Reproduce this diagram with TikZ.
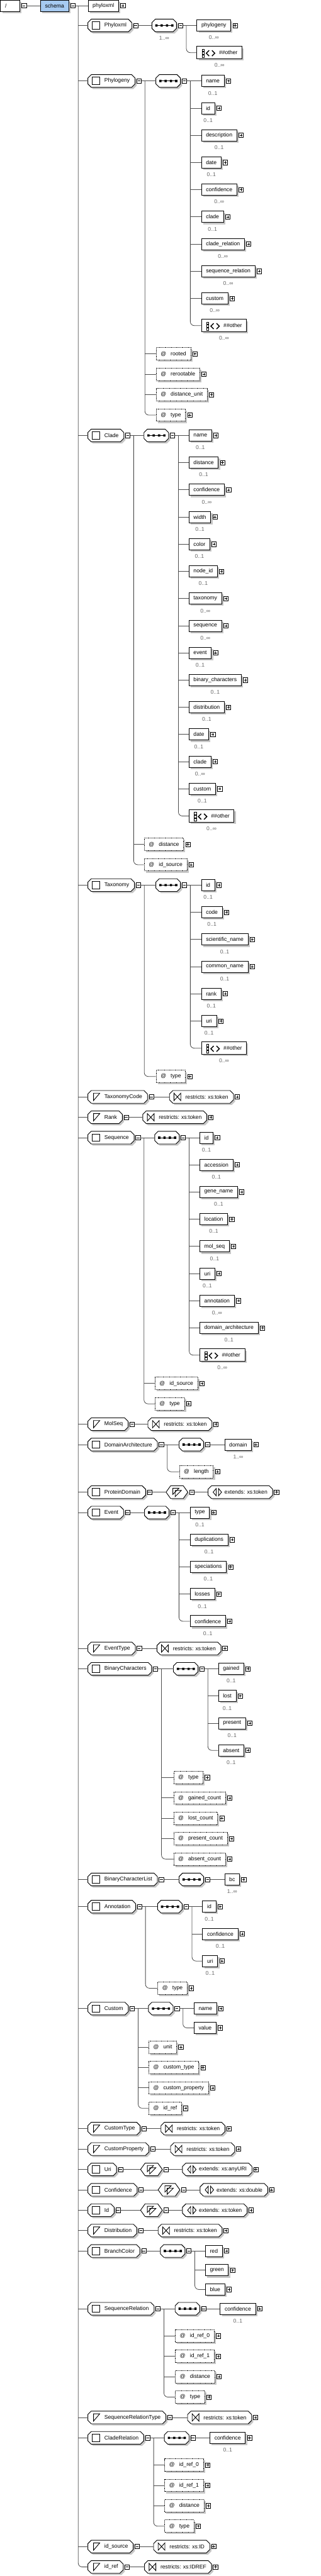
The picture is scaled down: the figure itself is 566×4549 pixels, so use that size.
\documentclass[tikz,border=0pt]{standalone}
\usepackage{fontspec}
\setmainfont{Liberation Sans}
\usetikzlibrary{positioning,shadows,backgrounds}
\definecolor{schemablue}{RGB}{166,202,240}

\tikzset{
  every node/.style={font=\fontsize{9.6}{11}\selectfont},
  conn/.style={draw=black!70, line width=0.9pt},
  boxshadow/.style={general shadow={fill=black!22, shadow xshift=3pt, shadow yshift=-3pt}},
  elembox/.style={draw, fill=white, line width=1pt, boxshadow, anchor=west,
    minimum height=20pt, inner xsep=8pt, inner ysep=0pt},
  attrbox/.style={elembox, dash pattern=on 1pt off 1pt, minimum height=22pt},
  anybox/.style={draw, fill=white, line width=1pt, boxshadow, anchor=west,
    minimum height=22pt, inner xsep=8pt, inner ysep=0pt,
    execute at begin node={\hspace*{31pt}}},
  typebox/.style={anchor=west, minimum height=22pt, inner xsep=9pt, inner ysep=0pt,
    execute at begin node={\hspace*{20pt}}},
  restrbox/.style={anchor=west, minimum height=22pt, inner xsep=9pt, inner ysep=0pt,
    execute at begin node={\hspace*{19pt}}},
  extbox/.style={anchor=west, minimum height=22pt, inner xsep=9pt, inner ysep=0pt,
    execute at begin node={\hspace*{20pt}}},
  seqbox/.style={anchor=west, minimum width=43pt, minimum height=22pt, inner sep=0pt},
  hexbox/.style={anchor=west, minimum width=38pt, minimum height=22pt, inner sep=0pt},
  shapeline/.style={draw=black, line width=1pt, fill=white, boxshadow},
  pmbox/.style={draw, fill=white, line width=0.8pt, minimum size=8pt, inner sep=0pt},
  pbox/.style={pmbox, path picture={\draw[line width=0.8pt]
      ([xshift=1.6pt]path picture bounding box.west) -- ([xshift=-1.6pt]path picture bounding box.east)
      ([yshift=1.6pt]path picture bounding box.south) -- ([yshift=-1.6pt]path picture bounding box.north);}},
  mbox/.style={pmbox, path picture={\draw[line width=0.8pt]
      ([xshift=1.6pt]path picture bounding box.west) -- ([xshift=-1.6pt]path picture bounding box.east);}},
  card/.style={text=black!60, inner sep=0pt},
}

% outlines drawn behind the named nodes
\newcommand\octa[2]{%
  \begin{scope}[on background layer]
    \draw[shapeline] ([yshift=#2]#1.south west) -- ([yshift=-#2]#1.north west)
      -- ([xshift=#2]#1.north west) -- ([xshift=-#2]#1.north east)
      -- ([yshift=-#2]#1.north east) -- ([yshift=#2]#1.south east)
      -- ([xshift=-#2]#1.south east) -- ([xshift=#2]#1.south west) -- cycle;
  \end{scope}}
\newcommand\hexa[1]{%
  \begin{scope}[on background layer]
    \draw[shapeline] (#1.west) -- ([xshift=8pt]#1.north west) -- ([xshift=-8pt]#1.north east)
      -- (#1.east) -- ([xshift=-8pt]#1.south east) -- ([xshift=8pt]#1.south west) -- cycle;
  \end{scope}}

% icons
\newcommand\icosq[1]{\draw[line width=1pt] ([shift={(8pt,-6.5pt)}]#1.west) rectangle +(13pt,13pt);}
\newcommand\icotri[1]{\draw[line width=1pt] ([shift={(10pt,6.5pt)}]#1.west) -- +(11pt,0pt) -- +(0pt,-13pt) -- cycle;}
\newcommand\icorestr[1]{\draw[line width=1pt] ([shift={(8pt,6.5pt)}]#1.west) -- +(0pt,-13pt) -- +(12pt,0pt) -- +(12pt,-13pt) -- cycle;}
\newcommand\icoext[1]{\draw[line width=1pt] ([xshift=9pt]#1.west) -- +(5.5pt,6.5pt) -- +(5.5pt,-6.5pt) -- cycle
    ([xshift=24pt]#1.west) -- +(-5.5pt,6.5pt) -- +(-5.5pt,-6.5pt) -- cycle;}
\newcommand\icocc[1]{\draw[line width=1pt, fill=white] ([shift={(12pt,7pt)}]#1.west) -- +(11pt,0pt) -- +(0pt,-11pt) -- cycle
    ([shift={(16pt,3pt)}]#1.west) -- +(11pt,0pt) -- +(0pt,-11pt) -- cycle;}
\newcommand\icoany[1]{%
  \draw[line width=0.8pt] ([shift={(9.5pt,2.5pt)}]#1.west) rectangle +(4pt,4pt)
     ([shift={(9.5pt,-3pt)}]#1.west) rectangle +(4pt,4pt)
     ([shift={(9.5pt,-8.5pt)}]#1.west) rectangle +(4pt,4pt);
  \draw[line width=1.6pt] ([shift={(22pt,4pt)}]#1.west) -- +(-5pt,-5pt) -- +(0pt,-10pt)
     ([shift={(27pt,4pt)}]#1.west) -- +(5pt,-5pt) -- +(0pt,-10pt);}

% building blocks
\newcommand\elem[4]{\node[elembox] (#1) at (#2) {#3};
  \node[pbox] (#1-p) at ([xshift=7pt]#1.east) {};
  \ifx\relax#4\relax\else\node[card] (#1-c) at ([yshift=-11pt]#1.south) {#4};\fi}
\newcommand\attrib[3]{\node[attrbox] (#1) at (#2) {@\hspace{8pt}#3};
  \node[pbox] (#1-p) at ([xshift=7pt]#1.east) {};}
\newcommand\anyother[3]{\node[anybox] (#1) at (#2) {\#\#other};
  \icoany{#1}
  \node[card] (#1-c) at ([yshift=-11pt]#1.south) {#3};}
\newcommand\toptype[4]{\node[typebox] (#1) at (155,#2) {#3};
  \octa{#1}{6pt}
  #4{#1}
  \node[mbox] (#1-m) at ([xshift=7pt]#1.east) {};}
\newcommand\seqc[2]{\node[seqbox] (#1) at (#2) {};
  \octa{#1}{6pt}
  \draw[line width=1pt] ([xshift=8pt]#1.west) -- ([xshift=36pt]#1.west);
  \fill ([xshift=8pt]#1.west) +(-2pt,-2pt) rectangle +(2pt,2pt)
        ([xshift=17.3pt]#1.west) +(-2pt,-2pt) rectangle +(2pt,2pt)
        ([xshift=26.7pt]#1.west) +(-2pt,-2pt) rectangle +(2pt,2pt)
        ([xshift=36pt]#1.west) +(-2pt,-2pt) rectangle +(2pt,2pt);
  \node[mbox] (#1-m) at ([xshift=7pt]#1.east) {};}
\newcommand\restr[3]{\node[restrbox] (#1) at (#2) {#3};
  \octa{#1}{6pt}
  \icorestr{#1}
  \node[pbox] (#1-p) at ([xshift=7pt]#1.east) {};}
\newcommand\extn[3]{\node[extbox] (#1) at (#2) {#3};
  \octa{#1}{6pt}
  \icoext{#1}
  \node[pbox] (#1-p) at ([xshift=7pt]#1.east) {};}
\newcommand\cplx[2]{\node[hexbox] (#1) at (#2) {};
  \hexa{#1}
  \icocc{#1}
  \node[mbox] (#1-m) at ([xshift=7pt]#1.east) {};}
\newcommand\branch[3]{%
  \foreach \ch in {#2} {\draw[conn] (#1 |- \ch.west) -- (\ch.west);}
  \draw[conn, rounded corners=7pt] (#1) |- (#3.west);}

\begin{document}
\begin{tikzpicture}[x=1pt, y=-1pt]
\begin{scope}[on background layer]
  \fill[white] (0,0) rectangle (566,4549);
\end{scope}
\useasboundingbox (0,0) rectangle (566,4549);

%%%%% root %%%%%
\node[elembox, minimum width=34pt] (root) at (0.5,10) {\makebox[18pt][l]{/}};
\node[mbox] (root-m) at ([xshift=7pt]root.east) {};
\node[elembox, fill=schemablue] (schema) at (71,10) {schema};
\node[mbox] (schema-m) at ([xshift=7pt]schema.east) {};
\draw[conn] (root-m) -- (schema);
\coordinate (root-j) at ([xshift=5pt]schema-m.east);
\draw[conn] (schema-m) -- (root-j);

\elem{phyloxml-el}{155,10}{phyloxml}{}

%%%%% Phyloxml %%%%%
\toptype{Phyloxml}{45}{Phyloxml}{\icosq}
\seqc{Phyloxml-s}{268,45}
\node[card] (Phyloxml-s-c) at ([yshift=-11pt]Phyloxml-s.south) {1..∞};
\elem{px-phylogeny}{347,45}{phylogeny}{0..∞}
\anyother{px-any}{347,93}{0..∞}
\draw[conn] (Phyloxml-m) -- (Phyloxml-s);
\coordinate (Phyloxml-j) at ([xshift=6pt]Phyloxml-s-m.east);
\draw[conn] (Phyloxml-s-m) -- (Phyloxml-j);
\branch{Phyloxml-j}{px-phylogeny}{px-any}

%%%%% Phylogeny %%%%%
\toptype{Phylogeny}{143}{Phylogeny}{\icosq}
\seqc{Phylogeny-s}{275,143}
\elem{pg-name}{355,143}{name}{0..1}
\elem{pg-id}{355,191}{id}{0..1}
\elem{pg-desc}{355,239}{description}{0..1}
\elem{pg-date}{355,287}{date}{0..1}
\elem{pg-conf}{355,335}{confidence}{0..∞}
\elem{pg-clade}{355,383}{clade}{0..1}
\elem{pg-crel}{355,431}{clade\_relation}{0..∞}
\elem{pg-srel}{355,479}{sequence\_relation}{0..∞}
\elem{pg-custom}{355,527}{custom}{0..∞}
\anyother{pg-any}{355,575}{0..∞}
\attrib{pg-rooted}{275,625}{rooted}
\attrib{pg-reroot}{275,661}{rerootable}
\attrib{pg-dunit}{275,697}{distance\_unit}
\attrib{pg-type}{275,733}{type}
\coordinate (Phylogeny-a) at ([xshift=6pt]Phylogeny-m.east);
\draw[conn] (Phylogeny-m) -- (Phylogeny-s);
\branch{Phylogeny-a}{pg-rooted,pg-reroot,pg-dunit}{pg-type}
\coordinate (Phylogeny-j) at ([xshift=6pt]Phylogeny-s-m.east);
\draw[conn] (Phylogeny-s-m) -- (Phylogeny-j);
\branch{Phylogeny-j}{pg-name,pg-id,pg-desc,pg-date,pg-conf,pg-clade,pg-crel,pg-srel,pg-custom}{pg-any}

%%%%% Clade %%%%%
\toptype{Clade}{769}{Clade}{\icosq}
\seqc{Clade-s}{254,769}
\elem{cl-name}{333,769}{name}{0..1}
\elem{cl-dist}{333,817}{distance}{0..1}
\elem{cl-conf}{333,865}{confidence}{0..∞}
\elem{cl-width}{333,913}{width}{0..1}
\elem{cl-color}{333,961}{color}{0..1}
\elem{cl-nodeid}{333,1009}{node\_id}{0..1}
\elem{cl-tax}{333,1057}{taxonomy}{0..∞}
\elem{cl-seq}{333,1105}{sequence}{0..∞}
\elem{cl-event}{333,1153}{event}{0..1}
\elem{cl-binch}{333,1201}{binary\_characters}{0..1}
\elem{cl-distr}{333,1249}{distribution}{0..1}
\elem{cl-date}{333,1297}{date}{0..1}
\elem{cl-clade}{333,1345}{clade}{0..∞}
\elem{cl-custom}{333,1393}{custom}{0..1}
\anyother{cl-any}{333,1441}{0..∞}
\attrib{cl-adist}{254,1491}{distance}
\attrib{cl-idsrc}{254,1527}{id\_source}
\coordinate (Clade-a) at ([xshift=6pt]Clade-m.east);
\draw[conn] (Clade-m) -- (Clade-s);
\branch{Clade-a}{cl-adist}{cl-idsrc}
\coordinate (Clade-j) at ([xshift=6pt]Clade-s-m.east);
\draw[conn] (Clade-s-m) -- (Clade-j);
\branch{Clade-j}{cl-name,cl-dist,cl-conf,cl-width,cl-color,cl-nodeid,cl-tax,cl-seq,cl-event,cl-binch,cl-distr,cl-date,cl-clade,cl-custom}{cl-any}

%%%%% Taxonomy %%%%%
\toptype{Taxonomy}{1563}{Taxonomy}{\icosq}
\seqc{Taxonomy-s}{275,1563}
\elem{tx-id}{355,1563}{id}{0..1}
\elem{tx-code}{355,1611}{code}{0..1}
\elem{tx-sci}{355,1659}{scientific\_name}{0..1}
\elem{tx-common}{355,1707}{common\_name}{0..1}
\elem{tx-rank}{355,1755}{rank}{0..1}
\elem{tx-uri}{355,1803}{uri}{0..1}
\anyother{tx-any}{355,1851}{0..∞}
\attrib{tx-type}{275,1901}{type}
\coordinate (Taxonomy-a) at ([xshift=6pt]Taxonomy-m.east);
\draw[conn] (Taxonomy-m) -- (Taxonomy-s);
\draw[conn, rounded corners=7pt] (Taxonomy-a) |- (tx-type.west);
\coordinate (Taxonomy-j) at ([xshift=6pt]Taxonomy-s-m.east);
\draw[conn] (Taxonomy-s-m) -- (Taxonomy-j);
\branch{Taxonomy-j}{tx-id,tx-code,tx-sci,tx-common,tx-rank,tx-uri}{tx-any}

%%%%% TaxonomyCode, Rank %%%%%
\toptype{TaxonomyCode}{1937}{TaxonomyCode}{\icotri}
\restr{TaxonomyCode-r}{299,1937}{restricts: xs:token}
\draw[conn] (TaxonomyCode-m) -- (TaxonomyCode-r);
\toptype{Rank}{1973}{Rank}{\icotri}
\restr{Rank-r}{252,1973}{restricts: xs:token}
\draw[conn] (Rank-m) -- (Rank-r);

%%%%% Sequence %%%%%
\toptype{Sequence}{2009}{Sequence}{\icosq}
\seqc{Sequence-s}{273,2009}
\elem{sq-id}{352,2009}{id}{0..1}
\elem{sq-acc}{352,2057}{accession}{0..1}
\elem{sq-gene}{352,2105}{gene\_name}{0..1}
\elem{sq-loc}{352,2153}{location}{0..1}
\elem{sq-mol}{352,2201}{mol\_seq}{0..1}
\elem{sq-uri}{352,2249}{uri}{0..1}
\elem{sq-annot}{352,2297}{annotation}{0..∞}
\elem{sq-domarch}{352,2345}{domain\_architecture}{0..1}
\anyother{sq-any}{352,2393}{0..∞}
\attrib{sq-idsrc}{273,2443}{id\_source}
\attrib{sq-type}{273,2479}{type}
\coordinate (Sequence-a) at ([xshift=6pt]Sequence-m.east);
\draw[conn] (Sequence-m) -- (Sequence-s);
\branch{Sequence-a}{sq-idsrc}{sq-type}
\coordinate (Sequence-j) at ([xshift=6pt]Sequence-s-m.east);
\draw[conn] (Sequence-s-m) -- (Sequence-j);
\branch{Sequence-j}{sq-id,sq-acc,sq-gene,sq-loc,sq-mol,sq-uri,sq-annot,sq-domarch}{sq-any}

%%%%% MolSeq %%%%%
\toptype{MolSeq}{2515}{MolSeq}{\icotri}
\restr{MolSeq-r}{261,2515}{restricts: xs:token}
\draw[conn] (MolSeq-m) -- (MolSeq-r);

%%%%% DomainArchitecture %%%%%
\toptype{DomainArch}{2551}{DomainArchitecture}{\icosq}
\seqc{DomainArch-s}{316,2551}
\elem{da-domain}{396,2551}{domain}{1..∞}
\attrib{da-length}{316,2599}{length}
\coordinate (DomainArch-a) at ([xshift=6pt]DomainArch-m.east);
\draw[conn] (DomainArch-m) -- (DomainArch-s);
\draw[conn, rounded corners=7pt] (DomainArch-a) |- (da-length.west);
\draw[conn] (DomainArch-s-m) -- (da-domain);

%%%%% ProteinDomain %%%%%
\toptype{ProteinDomain}{2635}{ProteinDomain}{\icosq}
\cplx{ProteinDomain-c}{293,2635}
\extn{ProteinDomain-x}{367,2635}{extends: xs:token}
\draw[conn] (ProteinDomain-m) -- (ProteinDomain-c);
\draw[conn] (ProteinDomain-c-m) -- (ProteinDomain-x);

%%%%% Event %%%%%
\toptype{Event}{2671}{Event}{\icosq}
\seqc{Event-s}{255,2671}
\elem{ev-type}{335,2671}{type}{0..1}
\elem{ev-dup}{335,2719}{duplications}{0..1}
\elem{ev-spec}{335,2767}{speciations}{0..1}
\elem{ev-loss}{335,2815}{losses}{0..1}
\elem{ev-conf}{335,2863}{confidence}{0..1}
\draw[conn] (Event-m) -- (Event-s);
\coordinate (Event-j) at ([xshift=6pt]Event-s-m.east);
\draw[conn] (Event-s-m) -- (Event-j);
\branch{Event-j}{ev-type,ev-dup,ev-spec,ev-loss}{ev-conf}

%%%%% EventType %%%%%
\toptype{EventType}{2911}{EventType}{\icotri}
\restr{EventType-r}{277,2911}{restricts: xs:token}
\draw[conn] (EventType-m) -- (EventType-r);

%%%%% BinaryCharacters %%%%%
\toptype{BinChars}{2947}{BinaryCharacters}{\icosq}
\seqc{BinChars-s}{306,2947}
\elem{bc-gained}{385,2947}{gained}{0..1}
\elem{bc-lost}{385,2995}{lost}{0..1}
\elem{bc-present}{385,3043}{present}{0..1}
\elem{bc-absent}{385,3091}{absent}{0..1}
\attrib{bc-type}{306,3139}{type}
\attrib{bc-gcount}{306,3175}{gained\_count}
\attrib{bc-lcount}{306,3211}{lost\_count}
\attrib{bc-pcount}{306,3247}{present\_count}
\attrib{bc-acount}{306,3283}{absent\_count}
\coordinate (BinChars-a) at ([xshift=6pt]BinChars-m.east);
\draw[conn] (BinChars-m) -- (BinChars-s);
\branch{BinChars-a}{bc-type,bc-gcount,bc-lcount,bc-pcount}{bc-acount}
\coordinate (BinChars-j) at ([xshift=6pt]BinChars-s-m.east);
\draw[conn] (BinChars-s-m) -- (BinChars-j);
\branch{BinChars-j}{bc-gained,bc-lost,bc-present}{bc-absent}

%%%%% BinaryCharacterList %%%%%
\toptype{BinCharList}{3319}{BinaryCharacterList}{\icosq}
\seqc{BinCharList-s}{316,3319}
\elem{bl-bc}{396,3319}{bc}{1..∞}
\draw[conn] (BinCharList-m) -- (BinCharList-s);
\draw[conn] (BinCharList-s-m) -- (bl-bc);

%%%%% Annotation %%%%%
\toptype{Annotation}{3367}{Annotation}{\icosq}
\seqc{Annotation-s}{278,3367}
\elem{an-id}{357,3367}{id}{0..1}
\elem{an-conf}{357,3415}{confidence}{0..1}
\elem{an-uri}{357,3463}{uri}{0..1}
\attrib{an-type}{278,3511}{type}
\coordinate (Annotation-a) at ([xshift=6pt]Annotation-m.east);
\draw[conn] (Annotation-m) -- (Annotation-s);
\draw[conn, rounded corners=7pt] (Annotation-a) |- (an-type.west);
\coordinate (Annotation-j) at ([xshift=6pt]Annotation-s-m.east);
\draw[conn] (Annotation-s-m) -- (Annotation-j);
\branch{Annotation-j}{an-id,an-conf}{an-uri}

%%%%% Custom %%%%%
\toptype{Custom}{3547}{Custom}{\icosq}
\seqc{Custom-s}{262,3547}
\elem{cu-name}{342,3547}{name}{}
\elem{cu-value}{342,3581}{value}{}
\attrib{cu-unit}{262,3615}{unit}
\attrib{cu-ctype}{262,3651}{custom\_type}
\attrib{cu-cprop}{262,3687}{custom\_property}
\attrib{cu-idref}{262,3723}{id\_ref}
\coordinate (Custom-a) at ([xshift=6pt]Custom-m.east);
\draw[conn] (Custom-m) -- (Custom-s);
\branch{Custom-a}{cu-unit,cu-ctype,cu-cprop}{cu-idref}
\coordinate (Custom-j) at ([xshift=6pt]Custom-s-m.east);
\draw[conn] (Custom-s-m) -- (Custom-j);
\branch{Custom-j}{cu-name}{cu-value}

%%%%% CustomType, CustomProperty %%%%%
\toptype{CustomType}{3759}{CustomType}{\icotri}
\restr{CustomType-r}{284,3759}{restricts: xs:token}
\draw[conn] (CustomType-m) -- (CustomType-r);
\toptype{CustomProperty}{3795}{CustomProperty}{\icotri}
\restr{CustomProperty-r}{301,3795}{restricts: xs:token}
\draw[conn] (CustomProperty-m) -- (CustomProperty-r);

%%%%% Uri, Confidence, Id %%%%%
\toptype{Uri}{3831}{Uri}{\icosq}
\cplx{Uri-c}{248,3831}
\extn{Uri-x}{322,3831}{extends: xs:anyURI}
\draw[conn] (Uri-m) -- (Uri-c);
\draw[conn] (Uri-c-m) -- (Uri-x);
\toptype{Confidence}{3867}{Confidence}{\icosq}
\cplx{Confidence-c}{279,3867}
\extn{Confidence-x}{353,3867}{extends: xs:double}
\draw[conn] (Confidence-m) -- (Confidence-c);
\draw[conn] (Confidence-c-m) -- (Confidence-x);
\toptype{Id}{3903}{Id}{\icosq}
\cplx{Id-c}{248,3903}
\extn{Id-x}{322,3903}{extends: xs:token}
\draw[conn] (Id-m) -- (Id-c);
\draw[conn] (Id-c-m) -- (Id-x);

%%%%% Distribution %%%%%
\toptype{Distribution}{3939}{Distribution}{\icotri}
\restr{Distribution-r}{279,3939}{restricts: xs:token}
\draw[conn] (Distribution-m) -- (Distribution-r);

%%%%% BranchColor %%%%%
\toptype{BranchColor}{3975}{BranchColor}{\icosq}
\seqc{BranchColor-s}{283,3975}
\elem{br-red}{362,3975}{red}{}
\elem{br-green}{362,4009}{green}{}
\elem{br-blue}{362,4043}{blue}{}
\draw[conn] (BranchColor-m) -- (BranchColor-s);
\coordinate (BranchColor-j) at ([xshift=6pt]BranchColor-s-m.east);
\draw[conn] (BranchColor-s-m) -- (BranchColor-j);
\branch{BranchColor-j}{br-red,br-green}{br-blue}

%%%%% SequenceRelation %%%%%
\toptype{SeqRel}{4077}{SequenceRelation}{\icosq}
\seqc{SeqRel-s}{309,4077}
\elem{sr-conf}{388,4077}{confidence}{0..1}
\attrib{sr-ref0}{309,4125}{id\_ref\_0}
\attrib{sr-ref1}{309,4161}{id\_ref\_1}
\attrib{sr-dist}{309,4197}{distance}
\attrib{sr-type}{309,4233}{type}
\coordinate (SeqRel-a) at ([xshift=6pt]SeqRel-m.east);
\draw[conn] (SeqRel-m) -- (SeqRel-s);
\branch{SeqRel-a}{sr-ref0,sr-ref1,sr-dist}{sr-type}
\draw[conn] (SeqRel-s-m) -- (sr-conf);

%%%%% SequenceRelationType %%%%%
\toptype{SeqRelType}{4269}{SequenceRelationType}{\icotri}
\restr{SeqRelType-r}{331,4269}{restricts: xs:token}
\draw[conn] (SeqRelType-m) -- (SeqRelType-r);

%%%%% CladeRelation %%%%%
\toptype{CladeRel}{4305}{CladeRelation}{\icosq}
\seqc{CladeRel-s}{290,4305}
\elem{cr-conf}{370,4305}{confidence}{0..1}
\attrib{cr-ref0}{290,4353}{id\_ref\_0}
\attrib{cr-ref1}{290,4389}{id\_ref\_1}
\attrib{cr-dist}{290,4425}{distance}
\attrib{cr-type}{290,4461}{type}
\coordinate (CladeRel-a) at ([xshift=6pt]CladeRel-m.east);
\draw[conn] (CladeRel-m) -- (CladeRel-s);
\branch{CladeRel-a}{cr-ref0,cr-ref1,cr-dist}{cr-type}
\draw[conn] (CladeRel-s-m) -- (cr-conf);

%%%%% id_source, id_ref %%%%%
\toptype{idsource}{4497}{id\_source}{\icotri}
\restr{idsource-r}{271,4497}{restricts: xs:ID}
\draw[conn] (idsource-m) -- (idsource-r);
\toptype{idref}{4533}{id\_ref}{\icotri}
\restr{idref-r}{255,4533}{restricts: xs:IDREF}
\draw[conn] (idref-m) -- (idref-r);

%%%%% main spine %%%%%
\branch{root-j}{phyloxml-el,Phyloxml,Phylogeny,Clade,Taxonomy,TaxonomyCode,Rank,Sequence,MolSeq,DomainArch,ProteinDomain,Event,EventType,BinChars,BinCharList,Annotation,Custom,CustomType,CustomProperty,Uri,Confidence,Id,Distribution,BranchColor,SeqRel,SeqRelType,CladeRel,idsource}{idref}

\end{tikzpicture}
\end{document}
